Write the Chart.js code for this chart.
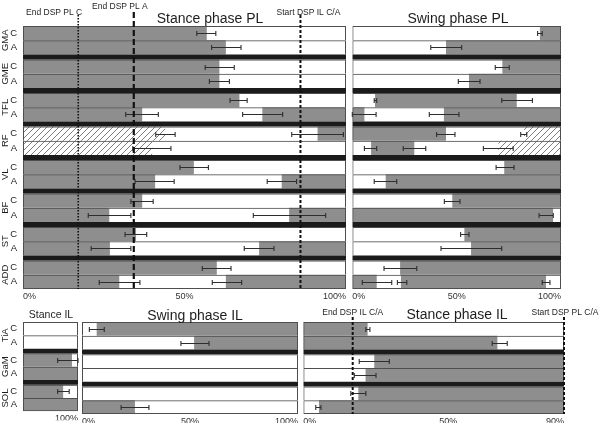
<!DOCTYPE html>
<html><head><meta charset="utf-8">
<script src="https://cdn.jsdelivr.net/npm/chart.js@4.4.1/dist/chart.umd.min.js"></script>
<style>
html,body{margin:0;padding:0;background:#fff}
#wrap{position:relative;width:600px;height:423px;overflow:hidden;background:#fff}
#wrap canvas{position:absolute}
</style></head><body>
<div id="wrap">
<canvas id="cStancePL" width="350" height="305" style="left:0;top:0"></canvas>
<canvas id="cSwingPL" width="252" height="305" style="left:348px;top:0"></canvas>
<canvas id="cStanceILs" width="84" height="123" style="left:0;top:300px"></canvas>
<canvas id="cSwingIL" width="222" height="123" style="left:80px;top:300px"></canvas>
<canvas id="cStanceIL" width="300" height="123" style="left:300px;top:300px"></canvas>
</div>
<script>
// ---------------- DATA ----------------
const musclesPL = ['GMA','GME','TFL','RF','VL','BF','ST','ADD'];
const musclesIL = ['TiA','GaM','SOL'];
const subjectRows = ['C','A'];

const ticksPL = [0, 50, 100];
const ticksStanceILshort = [100];
const ticksSwingIL = [0, 50, 100];
const ticksStanceIL = [0, 50, 90];

// active periods per row (C then A for each muscle): [start %, end %, 'g' grey | 'h' hatched]
const stancePLActive = [
  [[0,56.9,'g']], [[0,62.8,'g']],
  [[0,60.8,'g']], [[0,60.8,'g']],
  [[0,67,'g']],   [[0,36.9,'g'],[74.1,100,'g']],
  [[0,44,'h'],[91.2,100,'g']], [[0,40,'h']],
  [[0,52.9,'g']], [[0,40.9,'g'],[80.1,100,'g']],
  [[0,36.9,'g']], [[0,26.7,'g'],[82.4,100,'g']],
  [[0,35,'g']],   [[0,26.9,'g'],[73.1,100,'g']],
  [[0,60,'g']],   [[0,29.8,'g'],[62.8,100,'g']]
];
// error bars per row: [low %, high %]
const stancePLErr = [
  [[53.8,59.7]], [[58.4,67.5]],
  [[56.4,65.4]], [[57.7,63.9]],
  [[64.1,69.4]], [[31.8,41.9],[68,80.4]],
  [[41.1,47.1],[83.2,99.2]], [[34,45.8]],
  [[48.6,57.4]], [[34.7,46.8],[75.6,84.7]],
  [[33.4,40.3]], [[20.2,33.4],[71.3,93.7]],
  [[31.6,38.3]], [[21.1,33.4],[68.5,77.7]],
  [[55.5,64.4]], [[23.6,36.2],[58.6,67.7]]
];

const swingPLActive = [
  [[89.9,100,'g']], [[44.9,100,'g']],
  [[71.9,100,'g']], [[55.9,100,'g']],
  [[10.9,78.8,'g']], [[0,5.8,'g'],[43.9,100,'g']],
  [[0,44.9,'g'],[82.3,100,'h']], [[9,29.7,'g'],[70,100,'h']],
  [[72.8,100,'g']], [[16,100,'g']],
  [[47.9,100,'g']], [[0,96.2,'g']],
  [[53.7,100,'g']], [[56.9,100,'g']],
  [[22.9,100,'g']], [[0,11.7,'g'],[23.3,92.8,'g']]
];
const swingPLErr = [
  [[88.8,91]], [[37.6,52.4]],
  [[68.5,75.2]], [[50.8,61.2]],
  [[10.5,11.7],[71.6,86.3]], [[0,11.4],[36.9,51.1]],
  [[40.4,49.2],[80.7,83.6]], [[5.8,11.7],[24.4,35.2],[62.8,77.1]],
  [[68.9,77.5]], [[10.5,21.3]],
  [[44.1,51.6]], [[89.5,96.3]],
  [[51.9,55.9]], [[42.5,71.6]],
  [[15.2,30.9]], [[4.8,18.9],[21.6,26.1],[91,94.7]]
];

const stanceILshortActive = [
  [], [],
  [[90,98.9,'g']], [[90,100,'g']],
  [[90,97.3,'g']], [[90,100,'g']]
];
const stanceILshortErr = [
  [], [],
  [[96.3,100]], [],
  [[96.3,98.4]], []
];

const swingILActive = [
  [[6.8,100,'g']], [[51.9,100,'g']],
  [], [],
  [], [[0,24.5,'g']]
];
const swingILErr = [
  [[3.4,10.3]], [[45.8,58.8]],
  [], [],
  [], [[18.1,31]]
];

const stanceILActive = [
  [[0,22.2,'g']], [[0,67,'g']],
  [[24.5,90,'g']], [[21.5,90,'g']],
  [[19,90,'g']], [[5.4,90,'g']]
];
const stanceILErr = [
  [[21.6,23]], [[65.2,70.4]],
  [[19.3,29.7]], [[17.6,25.1]],
  [[16.4,21.6]], [[4.3,6.1]]
];

const stancePLEvents = [17.1, 34.3, 85.9];
const stancePLEventNames = ['End DSP PL C', 'End DSP PL A', 'Start DSP IL C/A'];
const stanceILEvents = [17.05, 90];
const stanceILEventNames = ['End DSP IL C/A', 'Start DSP PL C/A'];

// ---------------- STYLE / LAYOUT ----------------
const GRAY = '#8e8e8e', SEP = '#1b1b1b', EDGE = '#4e4e4e', INK = '#1e1e1e';
const FONT = '"Liberation Sans", Arial, Helvetica, sans-serif';
const S = 0.35; // separator thickness relative to a row

function makeHatch() {
  const c = document.createElement('canvas'); c.width = 6; c.height = 6;
  const g = c.getContext('2d');
  g.fillStyle = '#fff'; g.fillRect(0, 0, 6, 6);
  g.strokeStyle = '#707070'; g.lineWidth = 0.9;
  g.beginPath();
  g.moveTo(0, 6); g.lineTo(6, 0);
  g.moveTo(-1, 1); g.lineTo(1, -1);
  g.moveTo(5, 7); g.lineTo(7, 5);
  g.stroke();
  return g.createPattern(c, 'repeat');
}
const HATCH = makeHatch();

function makePanel(id, p) {
  const nG = p.muscles.length, nRows = nG * 2;
  const rowPos = i => Math.floor(i / 2) * (2 + S) + (i % 2) + 0.5;
  const sepPos = g => g * (2 + S) - S / 2;
  const total = nG * (2 + S) - S;
  const gap = 0.5 + S / 2;
  const rows = [...Array(nRows).keys()];
  const full = () => rows.map(i => ({ x: [p.xMin, p.xMax], y: rowPos(i) }));
  const ds = [];
  ds.push({ data: full(), backgroundColor: '#ffffff', borderWidth: 0, barPercentage: 1 / gap, order: 5 });
  const maxK = Math.max(1, ...p.active.map(a => a.length));
  for (let k = 0; k < maxK; k++) {
    ds.push({
      data: rows.filter(i => p.active[i][k]).map(i => ({ x: [p.active[i][k][0], p.active[i][k][1]], y: rowPos(i), kind: p.active[i][k][2] })),
      backgroundColor: c => (c.raw && c.raw.kind === 'h') ? HATCH : GRAY,
      borderWidth: 0, barPercentage: 1 / gap, order: 4
    });
  }
  ds.push({
    data: full(), backgroundColor: 'rgba(0,0,0,0)', borderColor: EDGE,
    borderWidth: c => ({ top: 1, left: 1, right: 1, bottom: c.dataIndex === nRows - 1 ? 1 : 0 }),
    borderSkipped: false, inflateAmount: 0, barPercentage: 1 / gap, order: 2
  });
  ds.push({
    data: [...Array(nG - 1).keys()].map(g => ({ x: [p.xMin, p.xMax], y: sepPos(g + 1) })),
    backgroundColor: SEP, borderWidth: 0, barPercentage: S / gap, order: 1
  });

  const extras = {
    id: 'extras_' + id,
    afterDatasetsDraw(chart) {
      const xs = chart.scales.x, ys = chart.scales.y, ctx = chart.ctx;
      ctx.save();
      ctx.strokeStyle = '#2e2e2e'; ctx.lineWidth = 1.1;
      p.errors.forEach((list, i) => {
        const y = Math.round(ys.getPixelForValue(rowPos(i))) + 0.5;
        list.forEach(([lo, hi]) => {
          const a = xs.getPixelForValue(lo), b = xs.getPixelForValue(hi);
          ctx.beginPath();
          ctx.moveTo(a, y); ctx.lineTo(b, y);
          ctx.moveTo(a, y - 2.5); ctx.lineTo(a, y + 2.5);
          ctx.moveTo(b, y - 2.5); ctx.lineTo(b, y + 2.5);
          ctx.stroke();
        });
      });
      (p.events || []).forEach((v, j) => {
        const st = p.eventStyle[j];
        const x = xs.getPixelForValue(v);
        ctx.beginPath();
        ctx.setLineDash(st.dash); ctx.lineWidth = st.width; ctx.strokeStyle = '#111';
        ctx.moveTo(x, st.top); ctx.lineTo(x, chart.chartArea.bottom);
        ctx.stroke();
        ctx.setLineDash([]);
        ctx.font = '8.5px ' + FONT; ctx.fillStyle = INK;
        ctx.textAlign = st.align; ctx.textBaseline = 'alphabetic';
        ctx.fillText(p.eventNames[j], x + st.dx, st.labelY);
      });
      ctx.restore();
    },
    afterDraw(chart) {
      const ys = chart.scales.y, ctx = chart.ctx;
      ctx.save();
      ctx.fillStyle = INK;
      ctx.font = p.titleSize + 'px ' + FONT;
      ctx.textAlign = 'center'; ctx.textBaseline = 'alphabetic';
      ctx.fillText(p.title, p.titleX, p.titleY);
      if (p.showY) {
        ctx.font = '9.5px ' + FONT;
        p.muscles.forEach((m, g) => {
          const y = ys.getPixelForValue(g * (2 + S) + 1);
          ctx.save();
          ctx.translate(5.5, y); ctx.rotate(-Math.PI / 2);
          ctx.textAlign = 'center'; ctx.textBaseline = 'middle';
          ctx.fillText(m, 0, 0);
          ctx.restore();
        });
      }
      ctx.restore();
    }
  };

  return new Chart(document.getElementById(id), {
    type: 'bar',
    data: { datasets: ds },
    options: {
      indexAxis: 'y',
      responsive: false,
      animation: false,
      devicePixelRatio: 1,
      layout: { padding: p.padding },
      datasets: { bar: { grouped: false, categoryPercentage: 1 } },
      plugins: { legend: { display: false }, tooltip: { enabled: false }, title: { display: false } },
      scales: {
        x: {
          type: 'linear', position: 'bottom', min: p.xMin, max: p.xMax, offset: false,
          afterBuildTicks: s => { s.ticks = p.xTicks.map(v => ({ value: v })); },
          afterFit: s => { s.height = p.xAxisH; },
          ticks: { callback: v => v + '%', align: 'inner', padding: 2, maxRotation: 0, autoSkip: false,
                   color: '#333', font: { family: FONT, size: 9 } },
          grid: { display: false, drawTicks: false, offset: false }, border: { display: false }
        },
        y: {
          type: 'linear', position: 'left', reverse: true, min: 0, max: total, offset: false,
          display: p.showY,
          afterBuildTicks: s => { s.ticks = rows.map(i => ({ value: rowPos(i) })); },
          afterFit: s => { s.width = p.showY ? 23 : 0; },
          ticks: { callback: (v, i) => subjectRows[i % 2], padding: 6, autoSkip: false,
                   color: INK, font: { family: FONT, size: 9.5 } },
          grid: { display: false, drawTicks: false, offset: false }, border: { display: false }
        }
      }
    },
    plugins: [extras]
  });
}

makePanel('cStancePL', {
  muscles: musclesPL, active: stancePLActive, errors: stancePLErr,
  xMin: 0, xMax: 100, xTicks: ticksPL, showY: true, xAxisH: 14,
  padding: { left: 0, right: 4, top: 26, bottom: 2 },
  title: 'Stance phase PL', titleSize: 14, titleX: 210, titleY: 23,
  events: stancePLEvents, eventNames: stancePLEventNames,
  eventStyle: [
    { dash: [1.5, 1.5], width: 1.6, top: 15, dx: 4, align: 'right', labelY: 14.5 },
    { dash: [6, 3], width: 2.2, top: 12, dx: 14, align: 'right', labelY: 8.5 },
    { dash: [3, 2], width: 2, top: 15, dx: 8, align: 'center', labelY: 14.5 }
  ]
});

makePanel('cSwingPL', {
  muscles: musclesPL, active: swingPLActive, errors: swingPLErr,
  xMin: 0, xMax: 100, xTicks: ticksPL, showY: false, xAxisH: 14,
  padding: { left: 4.3, right: 39, top: 26, bottom: 2 },
  title: 'Swing phase PL', titleSize: 14, titleX: 110, titleY: 23
});

makePanel('cStanceILs', {
  muscles: musclesIL, active: stanceILshortActive, errors: stanceILshortErr,
  xMin: 90, xMax: 100, xTicks: ticksStanceILshort, showY: true, xAxisH: 9,
  padding: { left: 0, right: 6, top: 22, bottom: 0 },
  title: 'Stance IL', titleSize: 10.5, titleX: 51, titleY: 18
});

makePanel('cSwingIL', {
  muscles: musclesIL, active: swingILActive, errors: swingILErr,
  xMin: 0, xMax: 100, xTicks: ticksSwingIL, showY: false, xAxisH: 9,
  padding: { left: 2, right: 4, top: 22, bottom: 0 },
  title: 'Swing phase IL', titleSize: 14, titleX: 115, titleY: 20
});

makePanel('cStanceIL', {
  muscles: musclesIL, active: stanceILActive, errors: stanceILErr,
  xMin: 0, xMax: 90, xTicks: ticksStanceIL, showY: false, xAxisH: 9,
  padding: { left: 3.3, right: 36, top: 22, bottom: 0 },
  title: 'Stance phase IL', titleSize: 14, titleX: 157, titleY: 19,
  events: stanceILEvents, eventNames: stanceILEventNames,
  eventStyle: [
    { dash: [3, 2], width: 2, top: 17, dx: 0, align: 'center', labelY: 15 },
    { dash: [3, 2], width: 2, top: 17, dx: 1, align: 'center', labelY: 15 }
  ]
});
</script>
</body></html>
